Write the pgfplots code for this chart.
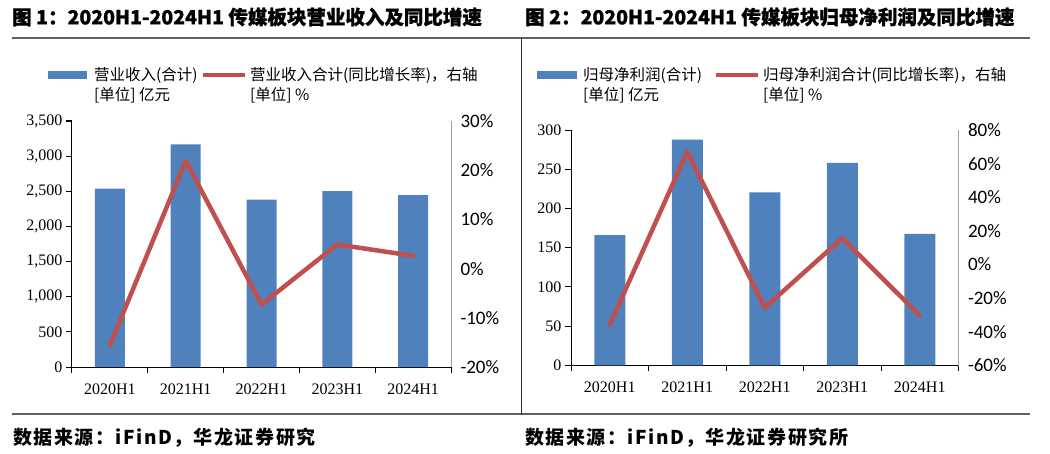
\documentclass[border=0pt]{standalone}
\usepackage{fontspec}
\setmainfont{Liberation Serif}
\newfontfamily\cjk{Noto Sans CJK SC}
\newfontfamily\carlito{Carlito}
\usepackage{pgfplots}
\pgfplotsset{compat=1.18}
\definecolor{barblue}{HTML}{4F81BD}
\definecolor{linered}{HTML}{C0504D}
\definecolor{rulegray}{HTML}{606060}

\pgfplotsset{
  baseax/.style={
    scale only axis,
    xmin=-0.5, xmax=4.5,
    clip=false,
    /pgf/number format/assume math mode=true,
  },
  barax/.style={
    baseax,
    axis x line*=bottom, axis y line*=left,
    axis line style={black, line width=1pt},
    xtick={-0.5,0.5,...,4.5}, xticklabels={},
    extra x ticks={0,1,2,3,4},
    extra x tick labels={2020H1,2021H1,2022H1,2023H1,2024H1},
    extra x tick style={major tick length=0pt, xticklabel style={yshift=-13pt}},
    tick align=outside,
    major tick length=6pt,
    tick style={black, line width=1pt},
    ymin=0,
    scaled y ticks=false,
    /pgf/number format/1000 sep={,},
    tick label style={font=\fontsize{16}{19}\selectfont},
  },
  lineax/.style={
    baseax,
    axis x line=none, axis y line*=right,
    y axis line style={draw=gray!75, line width=1pt},
    ytick style={draw=none},
    yticklabel={\carlito\pgfmathprintnumber{\tick}\%},
    yticklabel style={font=\fontsize{19}{22}\selectfont, xshift=6pt},
  },
}

\begin{document}
\begin{tikzpicture}
\path[use as bounding box] (0pt,0pt) rectangle (1050pt,453pt);

% titles
\node[anchor=west, inner sep=0, font=\cjk\bfseries\addfontfeature{FakeBold=1}\fontsize{19.5}{24}\selectfont] at (12pt,436pt)
  {图 1：2020H1-2024H1 传媒板块营业收入及同比增速};
\node[anchor=west, inner sep=0, font=\cjk\bfseries\addfontfeature{FakeBold=1}\fontsize{19.5}{24}\selectfont] at (525pt,436pt)
  {图 2：2020H1-2024H1 传媒板块归母净利润及同比增速};

% rules
\draw[rulegray, line width=1.5pt] (12pt,415pt) -- (1030pt,415pt);
\draw[rulegray, line width=1.5pt] (12pt,39pt) -- (1030pt,39pt);
\draw[black!80, line width=0.8pt] (521pt,415pt) -- (521pt,39pt);

% sources
\node[anchor=west, inner sep=0, font=\cjk\bfseries\addfontfeature{LetterSpace=8}\fontsize{19}{22}\selectfont] at (13pt,15pt)
  {数据来源：iFinD，华龙证券研究};
\node[anchor=west, inner sep=0, font=\cjk\bfseries\addfontfeature{LetterSpace=8}\fontsize{19}{22}\selectfont] at (525pt,15pt)
  {数据来源：iFinD，华龙证券研究所};

% legends (left)
\fill[barblue] (48pt,374pt) rectangle (87pt,382pt);
\draw[linered, line width=4.5pt] (203pt,378pt) -- (245pt,378pt);
\begin{scope}[every node/.style={anchor=west, inner sep=0, font=\cjk\fontsize{15.5}{18}\selectfont}]
\node at (94pt,378pt) {营业收入(合计)};
\node at (94pt,358pt) {[单位] 亿元};
\node at (250pt,378pt) {营业收入合计(同比增长率)，右轴};
\node at (250pt,358pt) {[单位] \%};
\end{scope}
% legends (right)
\fill[barblue] (537pt,374pt) rectangle (577pt,382pt);
\draw[linered, line width=4.5pt] (716pt,378pt) -- (758pt,378pt);
\begin{scope}[every node/.style={anchor=west, inner sep=0, font=\cjk\fontsize{15.5}{18}\selectfont}]
\node at (583pt,378pt) {归母净利润(合计)};
\node at (583pt,358pt) {[单位] 亿元};
\node at (763pt,378pt) {归母净利润合计(同比增长率)，右轴};
\node at (763pt,358pt) {[单位] \%};
\end{scope}

% ---- chart 1 ----
\begin{axis}[barax, at={(72pt,86pt)}, anchor=south west, width=379pt, height=246pt,
  ymax=3500, ytick={0,500,...,3500}]
  \addplot[ybar, bar width=30pt, fill=barblue, draw=none]
    coordinates {(0,2537) (1,3168) (2,2380) (3,2504) (4,2447)};
\end{axis}
\begin{axis}[lineax, at={(72pt,86pt)}, anchor=south west, width=379pt, height=246pt,
  ymin=-20, ymax=30, ytick={-20,-10,...,30}]
  \addplot[linered, line width=4.5pt, line join=round, line cap=round, mark=none]
    coordinates {(0,-15.6) (1,21.9) (2,-7.3) (3,4.9) (4,2.6)};
\end{axis}

% ---- chart 2 ----
\begin{axis}[barax, at={(571pt,87.5pt)}, anchor=south west, width=387.5pt, height=235.5pt,
  ymax=300, ytick={0,50,...,300}]
  \addplot[ybar, bar width=31pt, fill=barblue, draw=none]
    coordinates {(0,166) (1,287.7) (2,220.7) (3,258) (4,167.6)};
\end{axis}
\begin{axis}[lineax, at={(571pt,87.5pt)}, anchor=south west, width=387.5pt, height=235.5pt,
  ymin=-60, ymax=80, ytick={-60,-40,...,80}]
  \addplot[linered, line width=4.5pt, line join=round, line cap=round, mark=none]
    coordinates {(0,-35.8) (1,67.1) (2,-25.6) (3,15.7) (4,-30.3)};
\end{axis}
\end{tikzpicture}
\end{document}
